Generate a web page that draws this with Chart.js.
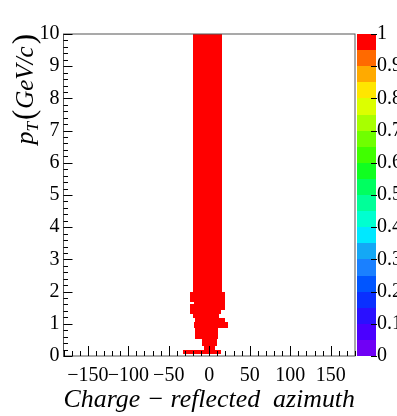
<!DOCTYPE html>
<html>
<head>
<meta charset="utf-8">
<script src="https://cdn.jsdelivr.net/npm/chart.js@4.4.1/dist/chart.umd.min.js"></script>
<style>
  html, body { margin: 0; padding: 0; background: #fff; }
  #wrap { width: 397px; height: 416px; }
</style>
</head>
<body>
<div id="wrap"><canvas id="myChart"></canvas></div>
<script>
// filled bins of the 2D histogram (pT rows, azimuth range), all at max value
const ptLow    = [0.06, 0.20, 0.32, 0.52, 0.86, 1.05, 1.17, 1.29, 1.42, 1.61, 1.68, 1.98];
const ptHigh   = [0.20, 0.32, 0.52, 0.86, 1.05, 1.17, 1.29, 1.42, 1.61, 1.68, 1.98, 10.0];
const phiLow   = [-32, -6, -9, -18, -19, -18, -20, -24, -24, -19, -24, -20];
const phiHigh  = [15, 7, 9, 11, 23, 19, 12, 15, 19, 19, 19, 16];
const binValue = [1, 1, 1, 1, 1, 1, 1, 1, 1, 1, 1, 1];

// tick labels
const xMajorTicks = [-150, -100, -50, 0, 50, 100, 150];
const zMin = 0, zMax = 1;

// palette (bottom -> top), 20 contours
const palette = [
    '#7000f5', '#4a00ff', '#2a10ff', '#0a30ff', '#0055ff',
    '#1a80ff', '#14a8f5', '#00e8ff', '#00ffd0', '#00ff99',
    '#00ff60', '#10ff20', '#40ff00', '#70ff00', '#a8ff00',
    '#dcff00', '#ffe600', '#ffaa00', '#ff6a00', '#ff0000'
];

const serif = "'Liberation Serif', 'Times New Roman', serif";

function colorFor(v) {
    let i = Math.floor((v - zMin) / (zMax - zMin) * palette.length);
    if (i >= palette.length) i = palette.length - 1;
    if (i < 0) i = 0;
    return palette[i];
}

// draws the histogram cells, the colour bar, frame and ROOT-like ticks
const rootPlugin = {
    id: 'rootPlugin',
    beforeDatasetsDraw(chart) {
        const ctx = chart.ctx;
        const x = chart.scales.x, y = chart.scales.y;
        ctx.save();
        for (let i = 0; i < ptLow.length; i++) {
            const x0 = Math.round(x.getPixelForValue(phiLow[i]));
            const x1 = Math.round(x.getPixelForValue(phiHigh[i]));
            const y0 = Math.round(y.getPixelForValue(ptHigh[i]));
            const y1 = Math.round(y.getPixelForValue(ptLow[i]));
            ctx.fillStyle = colorFor(binValue[i]);
            ctx.fillRect(x0, y0, x1 - x0, y1 - y0);
        }
        ctx.restore();
    },
    afterDraw(chart) {
        const ctx = chart.ctx;
        const a = chart.chartArea;
        const x = chart.scales.x, y = chart.scales.y, z = chart.scales.z;
        ctx.save();

        // colour bar
        const barL = Math.round(a.right + 2), barR = Math.round(a.right + 21);
        for (let i = 0; i < palette.length; i++) {
            const v0 = zMin + (zMax - zMin) * i / palette.length;
            const v1 = zMin + (zMax - zMin) * (i + 1) / palette.length;
            const p0 = Math.round(z.getPixelForValue(v0)), p1 = Math.round(z.getPixelForValue(v1));
            ctx.fillStyle = palette[i];
            ctx.fillRect(barL, p1, barR - barL, p0 - p1);
        }
        ctx.strokeStyle = '#000';
        ctx.lineWidth = 1;
        ctx.beginPath();
        for (let v = 0; v <= 10; v++) {
            const py = Math.round(z.getPixelForValue(v / 10)) + 0.5;
            ctx.moveTo(barR - 5, py);
            ctx.lineTo(barR + 1, py);
        }
        ctx.stroke();

        // frame
        ctx.strokeStyle = '#555';
        ctx.strokeRect(a.left, a.top, a.right - a.left, a.bottom - a.top);

        // x ticks (inside, pointing up)
        ctx.strokeStyle = '#000';
        ctx.beginPath();
        for (let v = -180; v <= 180; v += 10) {
            const px = Math.round(x.getPixelForValue(v)) + 0.5;
            const len = (v % 50 === 0) ? 10 : 5;
            ctx.moveTo(px, a.bottom);
            ctx.lineTo(px, a.bottom - len);
        }
        // y ticks (inside, pointing right)
        for (let k = 0; k <= 50; k++) {
            const py = Math.round(y.getPixelForValue(k * 0.2)) + 0.5;
            const len = (k % 5 === 0) ? 9 : 4.5;
            ctx.moveTo(a.left, py);
            ctx.lineTo(a.left + len, py);
        }
        ctx.stroke();

        // y axis title p_T (GeV/c), rotated
        const pieces = [
            { t: 'p', f: 'italic 26px ' + serif, dy: 0 },
            { t: 'T', f: 'italic 17px ' + serif, dy: 5 },
            { t: '(', f: '31px ' + serif, dy: 1, gap: 2 },
            { t: 'GeV/c', f: 'italic 25px ' + serif, dy: 0, gap: 1 },
            { t: ')', f: '31px ' + serif, dy: 1, gap: 2 }
        ];
        let total = 0;
        pieces.forEach(p => {
            ctx.font = p.f;
            p.w = ctx.measureText(p.t).width;
            total += p.w + (p.gap || 0);
        });
        ctx.translate(33, a.top);
        ctx.rotate(-Math.PI / 2);
        ctx.fillStyle = '#000';
        ctx.textBaseline = 'alphabetic';
        ctx.textAlign = 'left';
        let cx = -total;
        pieces.forEach(p => {
            cx += (p.gap || 0);
            ctx.font = p.f;
            ctx.fillText(p.t, cx, p.dy);
            cx += p.w;
        });
        ctx.restore();
    }
};

const ctx = document.getElementById('myChart');

new Chart(ctx, {
    type: 'scatter',
    data: {
        datasets: [{
            label: 'cells',
            data: ptLow.map((v, i) => ({ x: (phiLow[i] + phiHigh[i]) / 2, y: (ptLow[i] + ptHigh[i]) / 2 })),
            pointRadius: 0,
            showLine: false
        }]
    },
    options: {
        responsive: true,
        maintainAspectRatio: false,
        animation: false,
        events: [],
        layout: { padding: { top: 13.5, left: 0, right: 0, bottom: 0 } },
        plugins: {
            legend: { display: false },
            tooltip: { enabled: false }
        },
        scales: {
            x: {
                type: 'linear',
                min: -180,
                max: 180,
                afterBuildTicks: s => { s.ticks = xMajorTicks.map(v => ({ value: v })); },
                afterFit: s => { s.height = 60; },
                grid: { display: false, drawTicks: false },
                border: { display: false },
                ticks: {
                    autoSkip: false,
                    maxRotation: 0,
                    padding: 8,
                    color: '#000',
                    font: { family: serif, size: 20 },
                    callback: v => v < 0 ? '\u2212' + (-v) : String(v)
                },
                title: {
                    display: true,
                    text: 'Charge \u2212 reflected  azimuth',
                    align: 'end',
                    color: '#000',
                    font: { family: serif, size: 26, style: 'italic' },
                    padding: { top: 0, bottom: 0 }
                }
            },
            y: {
                type: 'linear',
                min: 0,
                max: 10,
                afterFit: s => { s.width = 63.5; },
                grid: { display: false, drawTicks: false },
                border: { display: false },
                ticks: {
                    stepSize: 1,
                    padding: 4,
                    color: '#000',
                    font: { family: serif, size: 20 }
                }
            },
            z: {
                type: 'linear',
                position: 'right',
                min: zMin,
                max: zMax,
                afterFit: s => { s.width = 42; },
                grid: { display: false, drawTicks: false },
                border: { display: false },
                ticks: {
                    stepSize: 0.1,
                    padding: 22,
                    color: '#000',
                    font: { family: serif, size: 20 },
                    callback: v => String(+v.toFixed(1))
                }
            }
        }
    },
    plugins: [rootPlugin]
});
</script>
</body>
</html>
